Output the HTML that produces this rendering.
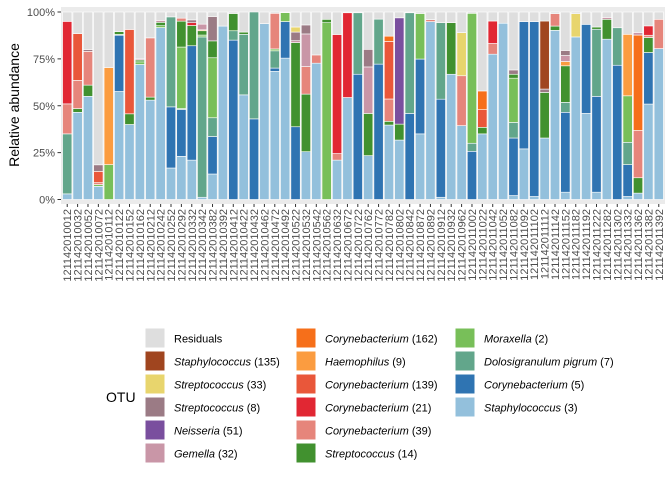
<!DOCTYPE html>
<html><head><meta charset="utf-8"><style>
body{margin:0;background:#fff;width:672px;height:480px;overflow:hidden;font-family:"Liberation Sans",sans-serif}
svg{display:block}
</style></head><body>
<svg id="chart" width="672" height="480" xmlns="http://www.w3.org/2000/svg">
<rect x="61" y="7" width="604" height="197" fill="#ebebeb"/>
<g id="bars"></g>
<g id="yaxis"></g>
<g id="xaxis"></g>
<text transform="translate(19,105) rotate(-90)" text-anchor="middle" font-size="14" fill="#000">Relative abundance</text>
<g id="legend">
<text x="106" y="402" font-size="14" fill="#000">OTU</text>
</g>
</svg>
<script>
const samples=["121142010012","121142010032","121142010052","121142010072","121142010112","121142010122","121142010152","121142010162","121142010212","121142010242","121142010252","121142010292","121142010332","121142010342","121142010382","121142010392","121142010412","121142010422","121142010432","121142010462","121142010472","121142010492","121142010522","121142010532","121142010542","121142010562","121142010632","121142010672","121142010722","121142010762","121142010772","121142010782","121142010802","121142010842","121142010872","121142010892","121142010912","121142010932","121142010962","121142011002","121142011022","121142011042","121142011052","121142011082","121142011092","121142011102","121142011112","121142011142","121142011152","121142011182","121142011192","121142011222","121142011282","121142011302","121142011332","121142011362","121142011382","121142011392"];
const otuNames=["Staphylococcus (3)","Corynebacterium (5)","Dolosigranulum pigrum (7)","Moraxella (2)","Streptococcus (14)","Corynebacterium (39)","Corynebacterium (21)","Corynebacterium (139)","Haemophilus (9)","Corynebacterium (162)","Gemella (32)","Neisseria (51)","Streptococcus (8)","Streptococcus (33)","Staphylococcus (135)","Residuals"];
const otuColors=["#93c0dc","#2f74b2","#62a68b","#78bf59","#41912f","#e6857b","#e12733","#e9573a","#fb9c40","#f66f1a","#c996a7","#7a4f9e","#9b7b85","#e8d56d","#a0451f","#dedede"];
const staph3=[3,46.5,55,7,0,57.6,40,72,53,91.7, 16.8,23,21,1.2,13.6,92.5,0,55.8,0,93.8, 68.3,75.4,0,25.5,72.7,0,21,54.4,0,23.4, 0,39.7,31.7,0,35,94.9,1.2,66.8,39.4,0, 35,77.5,94,2.1,27,1.6,32.8,90.2,3.9,86.7, 45.9,3.9,85.5,0,1.6,3.4,50.9,80.5];
const cory5=[0,0,0,0,0,30,0,0,0,0, 32.6,25,61,0,20,0,85,0,43,0, 1.8,19.5,38.8,0,0,0,0,0,66.8,0, 72.2,0,0,45.9,39.9,0,52.3,0,0,25.7, 0,0,0,30.7,67.9,93.3,0,0,42.6,0, 47.5,51.1,0,71.6,17,0,27.5,0];
const dolo7=[32,0,0,0,0,0,0,0,0,0, 48,0.5,0,85.5,10,0,5,32.3,57,0, 9.2,0,0,0,0,0,0,0,32.8,0, 24,0,0,53.7,0,0,40.8,0,0,4.3, 0,0,0,8.3,0,0,0,0,5.3,0, 0,35.8,0,20,11.9,0,0,0];
const morax2=[0,0,0,1,18.6,0.5,0,1.4,0,1, 0,32.8,0,1,32,0,0,0,0,0, 1,4.8,0,0,0,94.3,0,0,0,0, 0,0,0,0,24.3,0,0,0,0,69.3, 0,0,0,23.6,0,0,0,0,0,0, 0,0,0,0,24.8,0,0,0];
const strep14=[0,2,6,0,0,1.4,5.7,1,1.6,1.8, 0,13.8,10.8,2.3,9,0,9.2,1.2,0,0, 0,0,44.9,30.7,0,1.8,0,0,0,22.5, 0,2,8.5,0,0,0,0,27.5,0,0, 3.5,0,0,2.1,0,0,24.3,2.3,19.5,0, 0,1.2,10.6,0,0,8.2,8,0];
const cory39=[16,15,18,1,0,0,0,0,31.6,0, 0,1.6,0,0,0,0,0,0,0,0, 19,0,0,14.7,4.4,0,3.5,0,0,0, 0,11.9,0,0,0,1,0,0,26.6,0, 0,5.7,0,0,0,0,0,6.6,0,0, 0,0,0,0,0,25.2,1.2,15.6];
const cory21=[44,0,0,0,0,0,0,0,0,0, 0,0,1.5,0,0,0,0,0,0,0, 0,0,0,0,0,0,63.5,45.2,0,0, 0,0,0,0,0,0,0,0,0,0, 0,12,0,0,0,0,0,0,0,0, 0,0,0,0,0,0,5,0];
const cory139=[0,25,0,6,0,0,45,0,0,0, 0,0,0,0,0,0,0,0,0,0, 0,0,0,0,0,0,0,0,0,0, 0,30.7,0,0,0,0,0,0,0,0, 9.4,0,0,0,0,0,0,0,0,0, 0,0,0,0,0,0,0,0];
const haem9=[0,0,0,0,51.8,0,0,0,0,0, 0,0,0,0.5,0,0,0,0,0,0, 0,0,0,0,0,0,0,0,0,0, 0,0,0,0,0,0,0,0,0,0, 0,0,0,0,0,0,0,0,2.3,0, 0,0,0,0,32.8,0,0,0];
const cory162=[0,0,0,0,0,0,0,0,0,0, 0,0,0,0,0,0,0,0,0,0, 0,0,0,0,0,0,0,0,0,0, 0,2.8,0,0,0,0,0,0,0,0, 10,0,0,0,0,0,0,0,0,0, 0,0,0,0,0,50.9,0,0];
const gemella32=[0,0,0,0,0,0,0,0.6,0,1, 0,0,0,3,0,0,0,0,0,0, 0,0,1,17.4,0,0,0,0,0,24.8, 0,0,0,0,0,0,0,0,0,0, 0,0,0,0,0,0,0,0,3.2,0, 0,0,1,0,0,1.4,0,0];
const neiss51=[0,0,0,0,0,0,0,0,0,0, 0,0,0,0,0,0,0,0,0,0, 0,0,0,0,0,0,0,0,0,0, 0,0,56.7,0,0,0,0,0,0,0, 0,0,0,0,0,0,0,0,0,0, 0,0,0,0,0,0,0,0];
const strep8=[0,0,1,3.5,0,0,0,0,0,0, 0,0,1.5,0,13,0,0,0,0,0, 0,0,4.6,4.8,0,0,0,0,0,9.4, 0,0,0,0,0,0,0,0,0,0, 0,0,0,2.3,0,0,1.8,0,2.7,0, 0,0,0,0,0,0,0,0];
const strep33=[0,0,0,0,0,0,0,0,0,0, 0,0,0,0,0,0,0,0,0,0, 0,0,2.7,0,0,0,0,0,0,0, 0,0,0,0,0,0,0,0,23,0, 0,0,0,0,0,0,0,0,0,12.4, 0,0,0,0,0,0,0,0];
const staph135=[0,0,0,0,0,0,0,0,0,0, 0,0,0,0,0,0,0,0,0,0, 0,0,0,0,0,0,0,0,0,0, 0,0,0,0,0,0,0,0,0,0, 0,0,0,0,0,0,36.3,0,0,0, 0,0,0,0,0,0,0,0];
const residuals=[5,11.5,20,81.5,29.6,10.5,9.3,25,13.8,4.5, 2.6,3.3,4.2,6.5,2.4,7.5,0.8,10.7,0,6.2, 0.7,0.3,8,6.9,22.9,3.9,12,0.4,0.4,19.9, 3.8,12.9,3.1,0.4,0.8,4.1,5.7,5.7,11,0.7, 42.1,4.8,6,30.9,5.1,5.1,4.8,0.9,20.5,0.9, 6.6,8,2.9,8.4,11.9,10.9,7.4,3.9];
const yTicks=[0,25,50,75,100];
const yTickLabels=["0%","25%","50%","75%","100%"];

const series=[staph3,cory5,dolo7,morax2,strep14,cory39,cory21,cory139,haem9,cory162,gemella32,neiss51,strep8,strep33,staph135,residuals];
const NS="http://www.w3.org/2000/svg";
const px0=61,px1=665,step=(px1-px0)/(samples.length+0.2);
function xC(i){return px0+step*(0.6+i);}
function yS(v){return 199.5-v*1.875;}
const bars=document.getElementById('bars');
samples.forEach((s,i)=>{
  let cum=0;
  const bw=step*0.9;
  series.forEach((arr,k)=>{
    const v=arr[i];
    if(!v) return;
    const r=document.createElementNS(NS,'rect');
    r.setAttribute('x',xC(i)-bw/2);
    r.setAttribute('y',yS(cum+v));
    r.setAttribute('width',bw);
    r.setAttribute('height',yS(cum)-yS(cum+v));
    r.setAttribute('fill',otuColors[k]);
    r.setAttribute('stroke','#fff');
    r.setAttribute('stroke-width','0.6');
    
    
    bars.appendChild(r);
    cum+=v;
  });
});
const ya=document.getElementById('yaxis');
yTicks.forEach((t,i)=>{
  const y=yS(t);
  const l=document.createElementNS(NS,'line');
  l.setAttribute('x1',57.5);l.setAttribute('x2',61);l.setAttribute('y1',y);l.setAttribute('y2',y);
  l.setAttribute('stroke','#333');l.setAttribute('stroke-width','1');
  
  
  ya.appendChild(l);
  const tx=document.createElementNS(NS,'text');
  tx.setAttribute('x',55);tx.setAttribute('y',y+4);tx.setAttribute('text-anchor','end');
  tx.setAttribute('font-size','11');tx.setAttribute('fill','#4d4d4d');
  tx.textContent=yTickLabels[i];
  
  
  ya.appendChild(tx);
});
const xa=document.getElementById('xaxis');
samples.forEach((s,i)=>{
  const x=xC(i);
  const l=document.createElementNS(NS,'line');
  l.setAttribute('x1',x);l.setAttribute('x2',x);l.setAttribute('y1',204);l.setAttribute('y2',207);
  l.setAttribute('stroke','#333');
  
  
  xa.appendChild(l);
  const tx=document.createElementNS(NS,'text');
  tx.setAttribute('transform','translate('+(x+4)+',209) rotate(-90)');
  tx.setAttribute('text-anchor','end');
  tx.setAttribute('font-size','11');tx.setAttribute('fill','#4d4d4d');
  tx.textContent=s;
  
  
  xa.appendChild(tx);
});
const legendOrder=[15,14,13,12,11,10,9,8,7,6,5,4,3,2,1,0];
const lg=document.getElementById('legend');
const colX=[145,296,455];
legendOrder.forEach((k,j)=>{
  const c=Math.floor(j/6),r=j%6;
  const x=colX[c],y=328+r*23;
  const b=document.createElementNS(NS,'rect');
  b.setAttribute('x',x);b.setAttribute('y',y);b.setAttribute('width',20);b.setAttribute('height',20);
  b.setAttribute('fill',otuColors[k]);b.setAttribute('stroke','#fff');
  
  
  lg.appendChild(b);
  const t=document.createElementNS(NS,'text');
  t.setAttribute('x',x+29);t.setAttribute('y',y+14.5);t.setAttribute('font-size','11');t.setAttribute('fill','#000');
  const name=otuNames[k];
  if(name==='Residuals'){t.textContent=name;}
  else{
    const m=name.match(/^(.*?) (\(\d+\))$/);
    const it=document.createElementNS(NS,'tspan');it.setAttribute('font-style','italic');it.textContent=m[1];
    t.appendChild(it);
    t.appendChild(document.createTextNode(' '+m[2]));
  }
  
  
  lg.appendChild(t);
});
</script>
</body></html>
